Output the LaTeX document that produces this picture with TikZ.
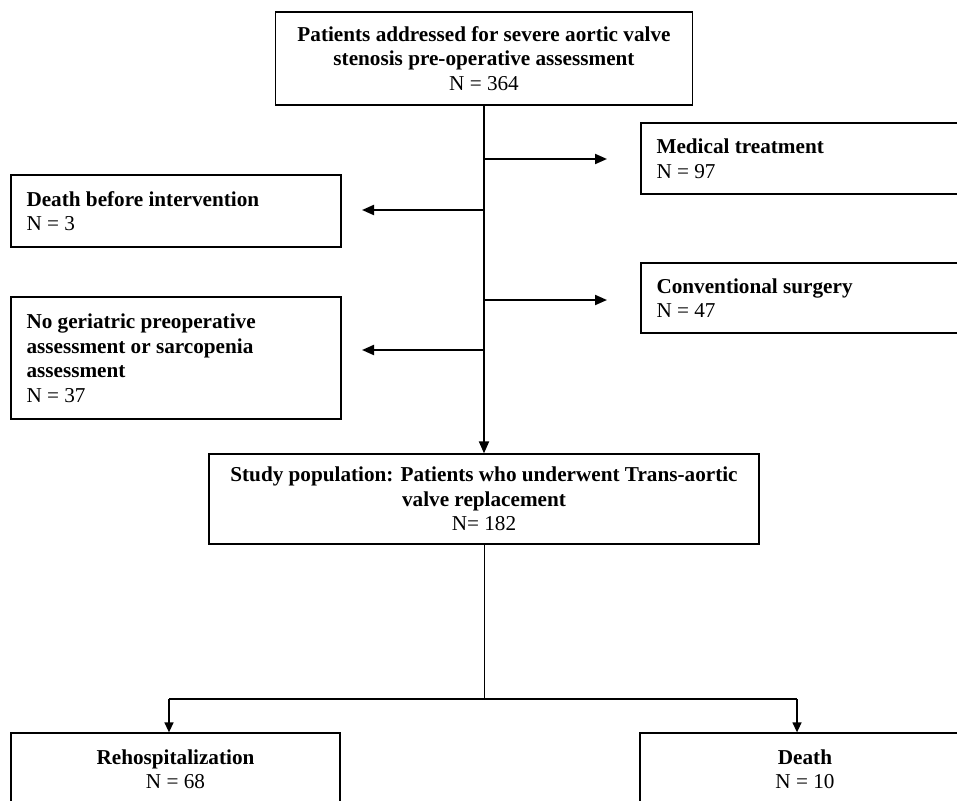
\documentclass[tikz,border=0pt]{standalone}
\usepackage{fontspec}
\setmainfont{Liberation Serif}
\usetikzlibrary{arrows.meta}
\begin{document}
\begin{tikzpicture}[x=1pt,y=1pt,
  box/.style={draw=black, line width=1.3pt, rectangle, inner ysep=0pt,
    font=\fontsize{21.2}{24.5}\selectfont},
  cbox/.style={box, align=center},
  lbox/.style={box, align=flush left, inner xsep=15.5pt, text width=299pt},
  conn/.style={line width=2pt, -{Triangle[length=12pt,width=10pt]}},
  thin/.style={line width=1pt},
  mid/.style={line width=1.4pt},
  dconn/.style={line width=1.4pt, -{Triangle[length=10pt,width=9pt]}}
]
\useasboundingbox (0,0) rectangle (957,-800);
\clip (0,0) rectangle (957,-800);
\fill[white] (0,0) rectangle (957,-800);

\node[cbox, minimum width=417pt, minimum height=93pt] (top) at (484,-58.5)
  {\textbf{Patients addressed for severe aortic valve}\\\textbf{stenosis pre-operative assessment}\\N = 364};
\node[lbox, minimum height=71pt] (med) at (806,-158.5)
  {\textbf{Medical treatment}\\N = 97};
\node[lbox, minimum height=70pt] (conv) at (806,-298)
  {\textbf{Conventional surgery}\\N = 47};
\node[lbox, minimum height=72pt] (dbi) at (176,-211)
  {\textbf{Death before intervention}\\N = 3};
\node[lbox, minimum height=122pt] (nog) at (176,-358)
  {\textbf{No geriatric preoperative}\\\textbf{assessment or sarcopenia}\\\textbf{assessment}\\N = 37};
\node[cbox, minimum width=550pt, minimum height=90pt] (study) at (484,-499)
  {\textbf{Study population: Patients who underwent Trans-aortic}\\\textbf{valve replacement}\\N= 182};
\node[cbox, minimum width=329pt, minimum height=72pt] (reh) at (175.5,-769)
  {\textbf{Rehospitalization}\\N = 68};
\node[cbox, minimum width=330pt, minimum height=72pt] (death) at (805,-769)
  {\textbf{Death}\\N = 10};

% main trunk
\draw[conn] (top.south) -- (study.north);
% side branches
\coordinate (m1) at (484,-159);
\coordinate (m1e) at (607,-159);
\coordinate (d1) at (484,-210);
\coordinate (d1e) at (362,-210);
\coordinate (c1) at (484,-300);
\coordinate (c1e) at (607,-300);
\coordinate (n1) at (484,-350);
\coordinate (n1e) at (362,-350);
\draw[conn] (m1) -- (m1e);
\draw[conn] (d1) -- (d1e);
\draw[conn] (c1) -- (c1e);
\draw[conn] (n1) -- (n1e);

% bottom split
\coordinate (split) at (484,-699);
\coordinate (sl) at (169,-699);
\coordinate (sr) at (797,-699);
\draw[thin] (study.south) -- (split);
\draw[mid] (sl) -- (sr);
\draw[dconn] (sl) -- (sl |- reh.north);
\draw[dconn] (sr) -- (sr |- death.north);
\end{tikzpicture}
\end{document}
